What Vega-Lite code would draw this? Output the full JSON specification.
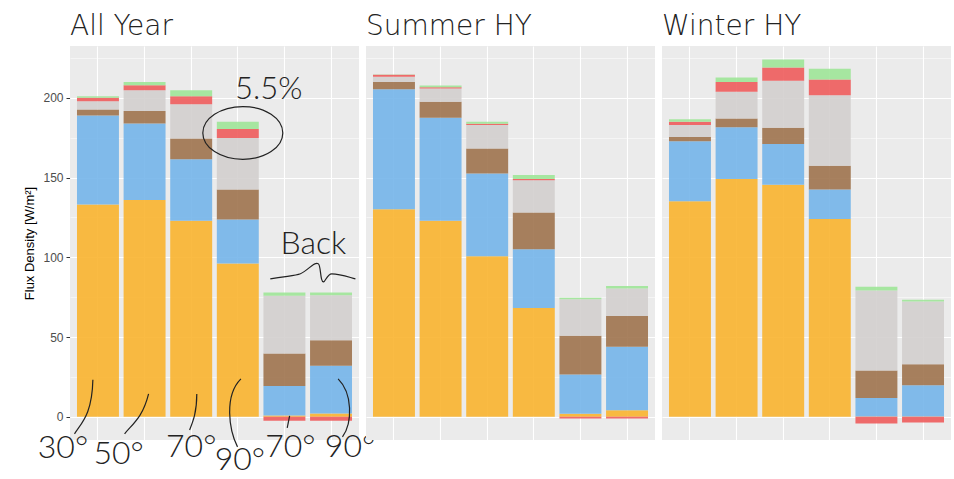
{
  "$schema": "https://vega.github.io/schema/vega-lite/v6.json",
  "background": "white",
  "padding": {"left": 23, "top": 13, "right": 0, "bottom": 0},
  "bounds": "flush",
  "data": {
    "values": [
      {"kind": "bar", "panel": "All Year", "bar": "30°", "Beam": 133.1, "Diffuse": 55.8, "Ground": 3.8, "Longwave": 5.2, "Loss": 2.1, "Net gain": 1.0},
      {"kind": "bar", "panel": "All Year", "bar": "50°", "Beam": 135.9, "Diffuse": 48.0, "Ground": 7.9, "Longwave": 13.0, "Loss": 3.1, "Net gain": 2.1},
      {"kind": "bar", "panel": "All Year", "bar": "70°", "Beam": 122.9, "Diffuse": 38.6, "Ground": 13.0, "Longwave": 21.5, "Loss": 5.0, "Net gain": 3.8},
      {"kind": "bar", "panel": "All Year", "bar": "90°", "Beam": 96.1, "Diffuse": 27.6, "Ground": 18.8, "Longwave": 32.4, "Loss": 5.5, "Net gain": 4.6},
      {"kind": "bar", "panel": "All Year", "bar": "Back 70°", "Beam": 0.8, "Diffuse": 18.6, "Ground": 20.3, "Longwave": 36.2, "Loss": -2.5, "Net gain": 2.0},
      {"kind": "bar", "panel": "All Year", "bar": "Back 90°", "Beam": 2.1, "Diffuse": 29.9, "Ground": 16.1, "Longwave": 28.2, "Loss": -2.5, "Net gain": 1.6},
      {"kind": "bar", "panel": "Summer HY", "bar": "30°", "Beam": 130.2, "Diffuse": 75.2, "Ground": 4.6, "Longwave": 3.2, "Loss": 1.2, "Net gain": 0.3},
      {"kind": "bar", "panel": "Summer HY", "bar": "50°", "Beam": 122.9, "Diffuse": 64.6, "Ground": 10.0, "Longwave": 8.3, "Loss": 0.9, "Net gain": 1.0},
      {"kind": "bar", "panel": "Summer HY", "bar": "70°", "Beam": 100.7, "Diffuse": 51.8, "Ground": 15.7, "Longwave": 14.7, "Loss": 0.8, "Net gain": 1.3},
      {"kind": "bar", "panel": "Summer HY", "bar": "90°", "Beam": 68.3, "Diffuse": 36.8, "Ground": 23.0, "Longwave": 20.3, "Loss": 0.8, "Net gain": 2.5},
      {"kind": "bar", "panel": "Summer HY", "bar": "Back 70°", "Beam": 1.9, "Diffuse": 24.6, "Ground": 24.3, "Longwave": 23.0, "Loss": -1.0, "Net gain": 0.8},
      {"kind": "bar", "panel": "Summer HY", "bar": "Back 90°", "Beam": 4.2, "Diffuse": 39.7, "Ground": 19.4, "Longwave": 17.1, "Loss": -1.0, "Net gain": 1.7},
      {"kind": "bar", "panel": "Winter HY", "bar": "30°", "Beam": 135.2, "Diffuse": 37.6, "Ground": 2.7, "Longwave": 7.4, "Loss": 2.1, "Net gain": 1.6},
      {"kind": "bar", "panel": "Winter HY", "bar": "50°", "Beam": 149.2, "Diffuse": 32.4, "Ground": 5.4, "Longwave": 16.8, "Loss": 6.2, "Net gain": 2.7},
      {"kind": "bar", "panel": "Winter HY", "bar": "70°", "Beam": 145.5, "Diffuse": 25.5, "Ground": 10.2, "Longwave": 29.5, "Loss": 8.3, "Net gain": 5.0},
      {"kind": "bar", "panel": "Winter HY", "bar": "90°", "Beam": 124.1, "Diffuse": 18.4, "Ground": 14.9, "Longwave": 44.3, "Loss": 9.8, "Net gain": 6.7},
      {"kind": "bar", "panel": "Winter HY", "bar": "Back 70°", "Beam": 0.3, "Diffuse": 11.6, "Ground": 17.1, "Longwave": 50.2, "Loss": -4.2, "Net gain": 2.3},
      {"kind": "bar", "panel": "Winter HY", "bar": "Back 90°", "Beam": 0.3, "Diffuse": 19.6, "Ground": 13.1, "Longwave": 39.3, "Loss": -3.5, "Net gain": 1.2},
      {"kind": "note", "panel": "All Year", "bar": "30°", "label": "30°", "y": -26},
      {"kind": "note", "panel": "All Year", "bar": "50°", "label": "50°", "y": -29.5},
      {"kind": "note", "panel": "All Year", "bar": "70°", "label": "70°", "y": -25},
      {"kind": "note", "panel": "All Year", "bar": "90°", "label": "90°", "y": -33.5},
      {"kind": "note", "panel": "All Year", "bar": "Back 70°", "label": "70°", "y": -25},
      {"kind": "note", "panel": "All Year", "bar": "Back 90°", "label": "90°", "y": -25},
      {"kind": "note", "panel": "All Year", "bar": "90°", "label": "5.5%", "y": 199.5},
      {"kind": "note", "panel": "All Year", "bar": "Back 70°", "label": "Back", "y": 102},
      {"kind": "stroke", "panel": "All Year", "bar": "30°", "id": "l30", "y": 6.3},
      {"kind": "stroke", "panel": "All Year", "bar": "50°", "id": "l50", "y": 1.9},
      {"kind": "stroke", "panel": "All Year", "bar": "70°", "id": "l70", "y": 3.1},
      {"kind": "stroke", "panel": "All Year", "bar": "90°", "id": "l90", "y": 2.5},
      {"kind": "stroke", "panel": "All Year", "bar": "Back 70°", "id": "lb70", "y": -3.1},
      {"kind": "stroke", "panel": "All Year", "bar": "Back 90°", "id": "lb90", "y": 5.6},
      {"kind": "stroke", "panel": "All Year", "bar": "90°", "id": "ring", "y": 178},
      {"kind": "stroke", "panel": "All Year", "bar": "Back 70°", "id": "wave", "y": 89.7}
    ]
  },
  "facet": {
    "column": {
      "field": "panel",
      "type": "nominal",
      "sort": ["All Year", "Summer HY", "Winter HY"],
      "header": {
        "title": null,
        "labelExpr": "'\u00a0\u00a0' + datum.label",
        "labelFont": "DejaVu Sans",
        "labelFontSize": 28,
        "labelFontWeight": 200,
        "labelColor": "#222222",
        "labelAnchor": "start",
        "labelAlign": "left",
        "labelPadding": 5
      }
    }
  },
  "spacing": 7,
  "spec": {
    "width": 289,
    "height": 394,
    "encoding": {
      "x": {
        "field": "bar",
        "type": "nominal",
        "sort": ["30°", "50°", "70°", "90°", "Back 70°", "Back 90°"],
        "scale": {"paddingInner": 0.1, "paddingOuter": 0.15},
        "axis": {
          "title": null,
          "labels": false,
          "ticks": false,
          "domain": false,
          "grid": true,
          "gridColor": "white",
          "gridWidth": 1.1,
          "bandPosition": 0.5
        }
      }
    },
    "layer": [
      {
        "transform": [
          {"filter": "datum.kind === 'bar'"},
          {"fold": ["Beam", "Diffuse", "Ground", "Longwave", "Loss", "Net gain"], "as": ["component", "flux"]}
        ],
        "mark": {"type": "bar", "opacity": 0.9},
        "encoding": {
          "y": {
            "field": "flux",
            "type": "quantitative",
            "stack": "zero",
            "scale": {"domain": [-14.5, 232.5], "nice": false, "zero": false},
            "axis": {
              "title": "Flux Density [W/m²]",
              "titleFont": "Liberation Sans",
              "titleFontSize": 13,
              "titleFontWeight": "normal",
              "titleColor": "#000000",
              "titlePadding": 6,
              "values": [0, 25, 50, 75, 100, 125, 150, 175, 200, 225],
              "labelExpr": "datum.value % 50 === 0 ? datum.label : ''",
              "labelFont": "Liberation Sans",
              "labelFontSize": 12,
              "labelColor": "#4D4D4D",
              "labelPadding": 3,
              "domain": false,
              "tickColor": "#333333",
              "tickSize": {"condition": {"test": "datum.value % 50 === 0", "value": 4}, "value": 0},
              "grid": true,
              "gridColor": "white",
              "gridWidth": {"condition": {"test": "datum.value % 50 === 0", "value": 1.2}, "value": 0.5}
            }
          },
          "color": {
            "field": "component",
            "type": "nominal",
            "scale": {
              "domain": ["Beam", "Diffuse", "Ground", "Longwave", "Loss", "Net gain"],
              "range": ["#F9B42F", "#74B5EA", "#9E734E", "#D3CFCE", "#EE5C5C", "#9EE598"]
            },
            "legend": null
          },
          "order": {"field": "component", "type": "nominal", "sort": "ascending"}
        }
      },
      {
        "transform": [{"filter": "datum.kind === 'note' && datum.label === '30°' && datum.bar === '30°'"}],
        "mark": {"type": "text", "font": "Lato", "fontWeight": 300, "fontSize": 32, "color": "#222222", "align": "center", "baseline": "alphabetic", "dx": -35},
        "encoding": {"text": {"field": "label"}, "y": {"field": "y", "type": "quantitative"}}
      },
      {
        "transform": [{"filter": "datum.kind === 'note' && datum.bar === '50°'"}],
        "mark": {"type": "text", "font": "Lato", "fontWeight": 300, "fontSize": 32, "color": "#222222", "align": "center", "baseline": "alphabetic", "dx": -26},
        "encoding": {"text": {"field": "label"}, "y": {"field": "y", "type": "quantitative"}}
      },
      {
        "transform": [{"filter": "datum.kind === 'note' && datum.bar === '70°'"}],
        "mark": {"type": "text", "font": "Lato", "fontWeight": 300, "fontSize": 32, "color": "#222222", "align": "center", "baseline": "alphabetic", "dx": 0},
        "encoding": {"text": {"field": "label"}, "y": {"field": "y", "type": "quantitative"}}
      },
      {
        "transform": [{"filter": "datum.kind === 'note' && datum.bar === '90°' && datum.label === '90°'"}],
        "mark": {"type": "text", "font": "Lato", "fontWeight": 300, "fontSize": 32, "color": "#222222", "align": "center", "baseline": "alphabetic", "dx": 2},
        "encoding": {"text": {"field": "label"}, "y": {"field": "y", "type": "quantitative"}}
      },
      {
        "transform": [{"filter": "datum.kind === 'note' && datum.bar === 'Back 70°' && datum.label === '70°'"}],
        "mark": {"type": "text", "font": "Lato", "fontWeight": 300, "fontSize": 32, "color": "#222222", "align": "center", "baseline": "alphabetic", "dx": 6},
        "encoding": {"text": {"field": "label"}, "y": {"field": "y", "type": "quantitative"}}
      },
      {
        "transform": [{"filter": "datum.kind === 'note' && datum.bar === 'Back 90°'"}],
        "mark": {"type": "text", "font": "Lato", "fontWeight": 300, "fontSize": 32, "color": "#222222", "align": "center", "baseline": "alphabetic", "dx": 19},
        "encoding": {"text": {"field": "label"}, "y": {"field": "y", "type": "quantitative"}}
      },
      {
        "transform": [{"filter": "datum.kind === 'note' && datum.label === '5.5%'"}],
        "mark": {"type": "text", "font": "Lato", "fontWeight": 300, "fontSize": 31, "color": "#222222", "align": "center", "baseline": "alphabetic", "dx": 31},
        "encoding": {"text": {"field": "label"}, "y": {"field": "y", "type": "quantitative"}}
      },
      {
        "transform": [{"filter": "datum.kind === 'note' && datum.label === 'Back'"}],
        "mark": {"type": "text", "font": "Lato", "fontWeight": 300, "fontSize": 32, "color": "#222222", "align": "center", "baseline": "alphabetic", "dx": 29},
        "encoding": {"text": {"field": "label"}, "y": {"field": "y", "type": "quantitative"}}
      },
      {
        "transform": [{"filter": "datum.kind === 'stroke' && datum.id === 'l30'"}],
        "mark": {"type": "point", "filled": false, "stroke": "#222222", "strokeWidth": 1.2, "opacity": 1, "size": 2916, "xOffset": -14, "shape": "M-0.35,1 C-0.1,0.6 0.3,0.3 0.33,-1"},
        "encoding": {"y": {"field": "y", "type": "quantitative"}}
      },
      {
        "transform": [{"filter": "datum.kind === 'stroke' && datum.id === 'l50'"}],
        "mark": {"type": "point", "filled": false, "stroke": "#222222", "strokeWidth": 1.2, "opacity": 1, "size": 1600, "xOffset": -8, "shape": "M-0.6,1 C-0.2,0.5 0.3,0.2 0.6,-1"},
        "encoding": {"y": {"field": "y", "type": "quantitative"}}
      },
      {
        "transform": [{"filter": "datum.kind === 'stroke' && datum.id === 'l70'"}],
        "mark": {"type": "point", "filled": false, "stroke": "#222222", "strokeWidth": 1.2, "opacity": 1, "size": 1296, "xOffset": 2, "shape": "M-0.2,1 C0,0.5 0.2,0 0.2,-1"},
        "encoding": {"y": {"field": "y", "type": "quantitative"}}
      },
      {
        "transform": [{"filter": "datum.kind === 'stroke' && datum.id === 'l90'"}],
        "mark": {"type": "point", "filled": false, "stroke": "#222222", "strokeWidth": 1.2, "opacity": 1, "size": 4624, "xOffset": -2, "shape": "M0.15,-1 C-0.35,-0.5 -0.2,0.5 0.05,1"},
        "encoding": {"y": {"field": "y", "type": "quantitative"}}
      },
      {
        "transform": [{"filter": "datum.kind === 'stroke' && datum.id === 'lb70'"}],
        "mark": {"type": "point", "filled": false, "stroke": "#222222", "strokeWidth": 1.2, "opacity": 1, "size": 144, "xOffset": 4, "shape": "M-0.2,1 L0.2,-1"},
        "encoding": {"y": {"field": "y", "type": "quantitative"}}
      },
      {
        "transform": [{"filter": "datum.kind === 'stroke' && datum.id === 'lb90'"}],
        "mark": {"type": "point", "filled": false, "stroke": "#222222", "strokeWidth": 1.2, "opacity": 1, "size": 3364, "xOffset": 10, "shape": "M-0.1,-1 C0.4,-0.5 0.4,0.5 0.05,1"},
        "encoding": {"y": {"field": "y", "type": "quantitative"}}
      },
      {
        "transform": [{"filter": "datum.kind === 'stroke' && datum.id === 'ring'"}],
        "mark": {"type": "point", "filled": false, "stroke": "#222222", "strokeWidth": 1.2, "opacity": 1, "size": 6400, "xOffset": 5, "shape": "M-1,0 A1,0.66 0 1,1 1,0 A1,0.66 0 1,1 -1,0 Z"},
        "encoding": {"y": {"field": "y", "type": "quantitative"}}
      },
      {
        "transform": [{"filter": "datum.kind === 'stroke' && datum.id === 'wave'"}],
        "mark": {"type": "point", "filled": false, "stroke": "#222222", "strokeWidth": 1.2, "opacity": 1, "size": 7396, "xOffset": 28, "shape": "M-0.98,0.12 C-0.6,0.05 -0.4,0.05 -0.28,0 C-0.1,-0.08 0.05,-0.3 0.14,-0.23 C0.2,-0.18 0.18,0.2 0.26,0.19 C0.3,0.18 0.35,0 0.45,0 C0.65,0 0.85,0.08 1,0.12"},
        "encoding": {"y": {"field": "y", "type": "quantitative"}}
      }
    ]
  },
  "config": {
    "view": {"fill": "#EBEBEB", "stroke": null},
    "axis": {"gridColor": "white"}
  }
}
